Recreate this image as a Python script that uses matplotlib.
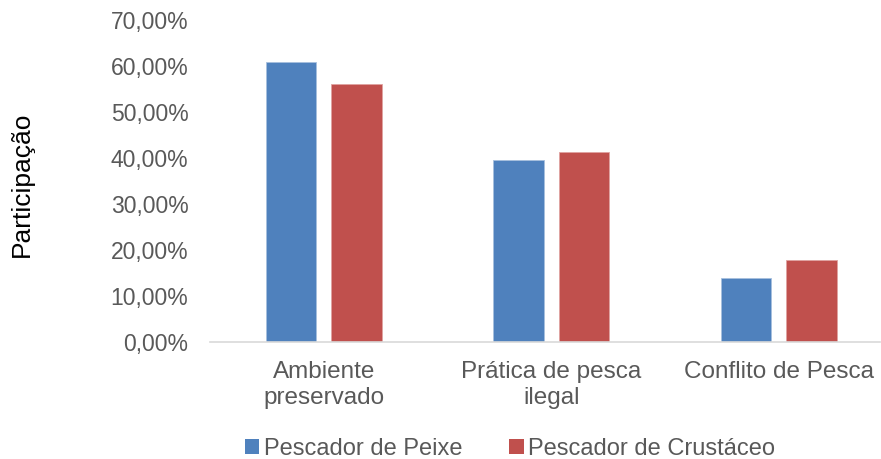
import matplotlib
matplotlib.use("Agg")
import matplotlib.pyplot as plt
import numpy as np
from matplotlib.patches import Patch

categories = ["Ambiente\npreservado", "Prática de pesca\nilegal", "Conflito de Pesca"]
series_names = ["Pescador de Peixe", "Pescador de Crustáceo"]
peixe = [60.87, 39.57, 13.91]
crustaceo = [56.09, 41.30, 17.83]
yticks = [0, 10, 20, 30, 40, 50, 60, 70]
ytick_labels = ["0,00%", "10,00%", "20,00%", "30,00%", "40,00%", "50,00%", "60,00%", "70,00%"]
colors = ["#4f81bd", "#c0504d"]

plt.rcParams['font.family'] = ['Liberation Sans', 'DejaVu Sans']
fig = plt.figure(figsize=(8.81, 4.59), dpi=100)
ax = fig.add_axes([210/881, 1-342/459, 670/881, (342-20)/459])

x = np.arange(len(categories))
w = 0.224
off = 0.144
ax.bar(x - off, peixe, w, color=colors[0], edgecolor="#a7c0de", linewidth=0.6)
ax.bar(x + off, crustaceo, w, color=colors[1], edgecolor="#e0a3a1", linewidth=0.6)

ax.set_xlim(-0.5, -0.5 + 670/227.5)
ax.set_ylim(0, 70)
ax.set_yticks(yticks)
ax.set_yticklabels(ytick_labels)
ax.set_xticks(x)
ax.set_xticklabels(categories, linespacing=1.2)
ax.tick_params(axis='y', length=0, pad=15.5, labelsize=16.5, labelcolor="#595959")
ax.tick_params(axis='x', length=0, pad=14, labelsize=17.5, labelcolor="#595959")
for s in ["top", "right", "left"]:
    ax.spines[s].set_visible(False)
ax.spines["bottom"].set_color("#d9d9d9")
ax.spines["bottom"].set_linewidth(1.2)

fig.text(22/881, 1-184/459, "Participação", rotation=90, ha="center", va="center",
         fontsize=19, color="#000000")

handles = [Patch(facecolor=colors[0]), Patch(facecolor=colors[1])]
fig.legend(handles, series_names, loc="center", bbox_to_anchor=(510/881, 1-449/459),
           ncol=2, frameon=False, fontsize=17, labelcolor="#595959",
           handlelength=0.6, handleheight=0.6, handletextpad=0.2, columnspacing=2.0,
           borderpad=0)

fig.savefig("out.png", dpi=100)
